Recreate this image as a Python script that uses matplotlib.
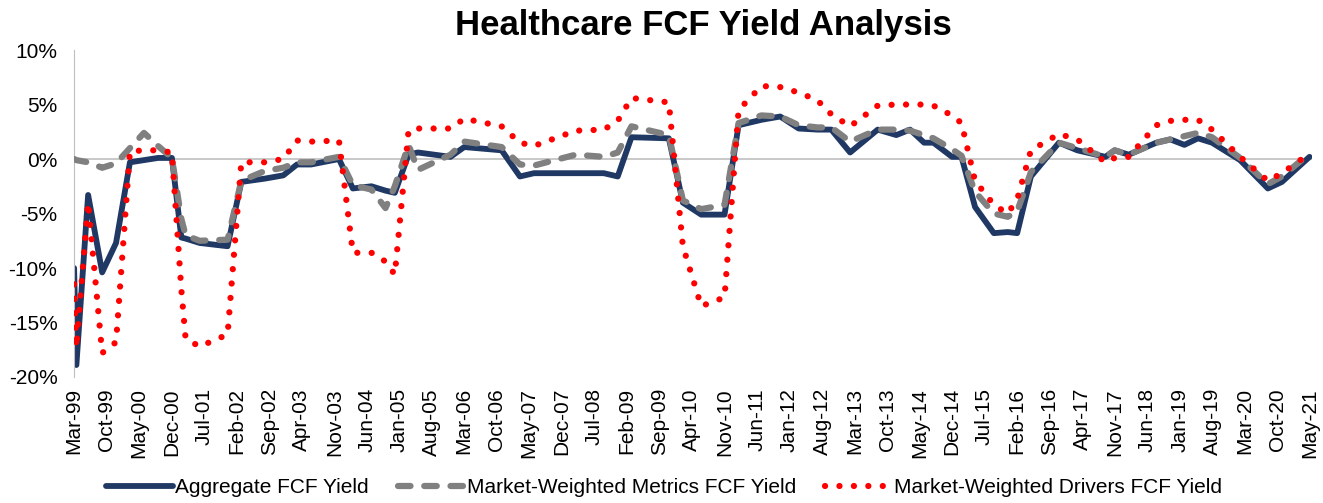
import matplotlib
matplotlib.use('Agg')
import matplotlib.pyplot as plt
import pandas as pd
import numpy as np
from matplotlib.lines import Line2D

plt.rcParams['font.family'] = ['Liberation Sans', 'DejaVu Sans']

# data points, values in %
dates = ['1999-03-01', '1999-03-16', '1999-06-01', '1999-09-01', '1999-12-01',
         '2000-03-01', '2000-06-01', '2000-09-01', '2000-12-01', '2001-02-01',
         '2001-03-01', '2001-06-01', '2001-12-01', '2002-03-01', '2002-08-01',
         '2002-12-01', '2003-03-01', '2003-06-01', '2003-12-01', '2004-03-01',
         '2004-07-01', '2004-10-01', '2004-12-01', '2005-03-01', '2005-05-01',
         '2005-12-01', '2006-03-01', '2006-11-01', '2007-03-01', '2007-06-01',
         '2008-03-01', '2008-09-01', '2008-12-01', '2009-03-01', '2009-11-01',
         '2010-02-01', '2010-06-01', '2010-11-01', '2011-02-01', '2011-07-01',
         '2011-11-01', '2012-03-01', '2012-07-01', '2012-10-01', '2013-02-01',
         '2013-08-01', '2013-12-01', '2014-03-01', '2014-06-01', '2014-08-01',
         '2014-12-01', '2015-02-01', '2015-05-01', '2015-09-01', '2015-12-01',
         '2016-02-01', '2016-05-01', '2016-11-01', '2017-03-01', '2017-09-01',
         '2017-11-01', '2018-02-01', '2018-08-01', '2018-11-01', '2019-02-01',
         '2019-05-01', '2019-08-01', '2020-02-01', '2020-08-01', '2020-11-01',
         '2021-05-01']

aggregate = [-10.0, -18.9, -3.3, -10.4, -7.7,
             -0.3, -0.1, 0.1, 0.1, -7.2,
             -7.3, -7.7, -8.0, -2.1, -1.8,
             -1.5, -0.5, -0.5, 0.0, -2.7,
             -2.5, -2.9, -3.1, 0.4, 0.6,
             0.2, 1.1, 0.8, -1.6, -1.3,
             -1.3, -1.3, -1.6, 2.0, 1.9,
             -4.0, -5.1, -5.1, 3.1, 3.6,
             3.9, 2.8, 2.7, 2.7, 0.6,
             2.7, 2.2, 2.7, 1.5, 1.5,
             0.2, 0.2, -4.4, -6.8, -6.7,
             -6.8, -1.6, 1.5, 0.8, 0.2,
             0.8, 0.4, 1.5, 1.8, 1.3,
             1.9, 1.5, -0.1, -2.7, -2.1,
             0.2]

metrics = [0.0, -0.1, -0.3, -0.8, -0.4,
           1.0, 2.4, 1.2, 0.1, -5.5,
           -7.0, -7.5, -7.4, -2.0, -1.1,
           -0.8, -0.3, -0.3, 0.2, -2.4,
           -2.8, -4.5, -2.5, 1.3, -1.0,
           0.4, 1.6, 1.1, -0.5, -0.6,
           0.4, 0.2, 0.6, 3.0, 2.2,
           -3.8, -4.6, -4.2, 3.3, 4.0,
           3.9, 3.1, 2.9, 2.9, 1.6,
           2.7, 2.7, 2.6, 2.2, 1.9,
           0.9, 0.3, -3.0, -5.0, -5.3,
           -4.8, -1.2, 1.5, 1.0, 0.2,
           0.8, 0.4, 1.5, 1.8, 2.1,
           2.4, 2.0, 0.1, -2.3, -1.6,
           0.5]

drivers = [-11.5, -17.3, -4.0, -17.8, -16.8,
           0.7, 0.8, 0.8, 0.6, -12.0,
           -16.5, -17.2, -16.1, -0.3, -0.3,
           0.0, 1.7, 1.6, 1.7, -8.6,
           -8.6, -9.4, -10.6, 2.6, 2.8,
           2.8, 3.7, 3.0, 1.5, 1.2,
           2.6, 2.7, 3.5, 5.6, 5.2,
           -8.0, -13.5, -12.7, 4.5, 6.7,
           6.6, 6.1, 5.4, 4.1, 3.0,
           4.9, 5.0, 5.0, 5.0, 4.9,
           4.0, 3.3, -2.0, -4.2, -5.0,
           -3.7, 0.8, 2.3, 1.8, -0.3,
           0.1, 0.2, 3.1, 3.5, 3.6,
           3.6, 2.7, 0.2, -2.0, -1.3,
           0.5]

x = pd.to_datetime(dates)
navy = '#1F3864'
grey = '#808080'
red = '#FF0000'

fig = plt.figure(figsize=(13.23, 5.03), dpi=100)
ax = fig.add_axes([0.056, 0.2505, 0.936, 0.65])

ax.axhline(0, color='#BFBFBF', lw=1.2, zorder=1)
ax.plot(x, aggregate, color=navy, lw=4.2, solid_joinstyle='round',
        solid_capstyle='round', zorder=2)
ax.plot(x, metrics, color=grey, lw=4.5, linestyle=(0, (2.0, 2.2)),
        dash_capstyle='round', dash_joinstyle='round', zorder=3)
ax.plot(x, drivers, color=red, lw=4.5, linestyle=(0, (0.01, 2.3)),
        dash_capstyle='round', zorder=4)

ax.set_ylim(-20, 10)
ax.set_yticks(np.arange(-20, 11, 5))
ax.set_yticklabels([f'{v}%' for v in range(-20, 11, 5)])
ax.set_xlim(pd.Timestamp('1999-03-01'), pd.Timestamp('2021-05-20'))

ticks = pd.date_range('1999-03-01', '2021-05-01', freq='7MS')
ax.set_xticks(ticks)
ax.set_xticklabels([t.strftime('%b-%y') for t in ticks], rotation=90)

for s in ['top', 'right', 'bottom']:
    ax.spines[s].set_visible(False)
ax.spines['left'].set_color('#BFBFBF')
ax.tick_params(axis='y', length=0, pad=12, labelsize=15)
ax.tick_params(axis='x', length=0, pad=8, labelsize=15)

fig.suptitle('Healthcare FCF Yield Analysis', fontsize=25, fontweight='bold',
             x=0.532, y=0.983)

handles = [Line2D([], [], color=navy, lw=4.2, solid_capstyle='round'),
           Line2D([], [], color=grey, lw=4.5, linestyle=(0, (2.0, 2.2)),
                  dash_capstyle='round'),
           Line2D([], [], color=red, lw=4.5, linestyle=(0, (0.01, 2.3)),
                  dash_capstyle='round')]
labels = ['Aggregate FCF Yield', 'Market-Weighted Metrics FCF Yield',
          'Market-Weighted Drivers FCF Yield']
fig.legend(handles, labels, loc='center', bbox_to_anchor=(0.502, 0.03),
           ncol=3, frameon=False, fontsize=15, handlelength=3.2,
           handletextpad=0.1, columnspacing=1.4)

fig.savefig('out.png', dpi=100)
